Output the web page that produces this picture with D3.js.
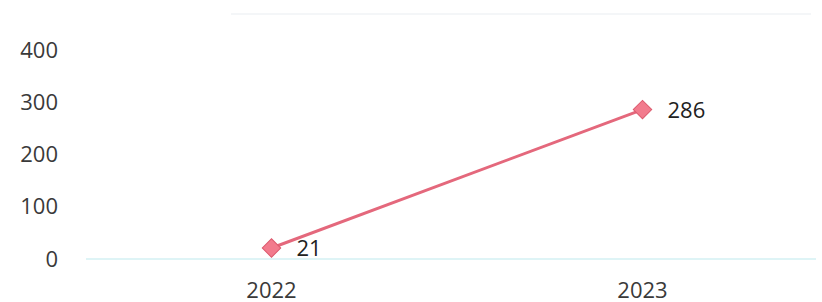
<!DOCTYPE html>
<html>
<head>
<meta charset="utf-8">
<script src="https://cdn.jsdelivr.net/npm/d3@7"></script>
<style>
  body { margin: 0; background: #fff; }
  svg { display: block; }
</style>
</head>
<body>
<svg id="chart" width="822" height="302"></svg>
<script>
// data
var years = ["2022", "2023"];
var values = [21, 286];
var yTicks = [0, 100, 200, 300, 400];

var margin = { top: 50, right: -6, bottom: 43, left: 86 },
  width = 822 - margin.left - margin.right,
  height = 302 - margin.top - margin.bottom;

var svg = d3.select("#chart")
  .append("g")
  .attr("transform", "translate(" + margin.left + "," + margin.top + ")");

var xScale = d3.scaleBand().domain(years).range([0, width]);
var yScale = d3.scaleLinear().domain([0, 400]).range([height, 0]);

var font = "'Open Sans', 'Noto Sans', sans-serif";

// faint top border from the scan
svg.append("line")
  .attr("x1", 145).attr("x2", 725)
  .attr("y1", yScale(400) - 36).attr("y2", yScale(400) - 36)
  .attr("stroke", "#f1f3f6").attr("stroke-width", 1.5);

// baseline
svg.append("line")
  .attr("x1", 0).attr("x2", 730)
  .attr("y1", yScale(0)).attr("y2", yScale(0))
  .attr("stroke", "#d3f1f3").attr("stroke-width", 1.5);

// y axis
var yAxis = d3.axisLeft(yScale).tickValues(yTicks).tickSize(0).tickPadding(28);
svg.append("g").call(yAxis)
  .call(function (g) { g.select(".domain").remove(); })
  .selectAll("text")
  .attr("fill", "#3a3a3a")
  .style("font-family", font)
  .style("font-size", "22px");

// x axis
var xAxis = d3.axisBottom(xScale).tickSize(0).tickPadding(23);
svg.append("g").attr("transform", "translate(0," + height + ")").call(xAxis)
  .call(function (g) { g.select(".domain").remove(); })
  .selectAll("text")
  .attr("fill", "#3a3a3a")
  .style("font-family", font)
  .style("font-size", "22px");

var data = years.map(function (y, i) { return { year: y, value: values[i] }; });
var cx = function (d) { return xScale(d.year) + xScale.bandwidth() / 2; };

var line = d3.line().x(cx).y(function (d) { return yScale(d.value); });

svg.append("path")
  .datum(data)
  .attr("d", line)
  .attr("fill", "none")
  .attr("stroke", "#e4687c")
  .attr("stroke-width", 3);

svg.selectAll(".pt")
  .data(data)
  .join("path")
  .attr("class", "pt")
  .attr("d", d3.symbol().type(d3.symbolSquare).size(170))
  .attr("transform", function (d) {
    return "translate(" + cx(d) + "," + yScale(d.value) + ") rotate(45)";
  })
  .attr("fill", "#f27b8d")
  .attr("stroke", "#dc5a6e")
  .attr("stroke-width", 1);

svg.selectAll(".lbl")
  .data(data)
  .join("text")
  .attr("class", "lbl")
  .attr("x", function (d) { return cx(d) + 25; })
  .attr("y", function (d) { return yScale(d.value) + 8; })
  .attr("fill", "#222")
  .style("font-family", font)
  .style("font-size", "22px")
  .text(function (d) { return d.value; });
</script>
</body>
</html>
